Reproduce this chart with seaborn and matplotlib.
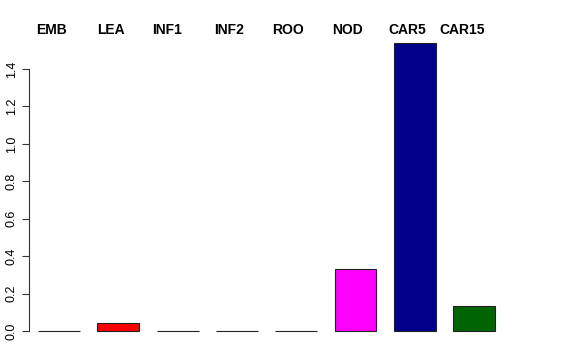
import matplotlib
matplotlib.use("Agg")
import matplotlib.pyplot as plt
import matplotlib.transforms as mtransforms
import seaborn as sns
import pandas as pd

categories = ["EMB", "LEA", "INF1", "INF2", "ROO", "NOD", "CAR5", "CAR15"]
values = [0.0, 0.043, 0.0, 0.0, 0.0, 0.331, 1.539, 0.134]
colors = ["white", "#FF0000", "white", "white", "white", "#FF00FF", "#00008B", "#006400"]
label_offsets = [-0.12, -0.13, -0.17, -0.13, -0.13, -0.13, -0.12, -0.2]
yticks = [0.0, 0.2, 0.4, 0.6, 0.8, 1.0, 1.2, 1.4]

sns.set_style("white")
plt.rcParams["font.family"] = ["Liberation Sans", "DejaVu Sans"]
plt.rcParams["text.color"] = "black"
plt.rcParams["ytick.color"] = "black"

W, H = 576, 360
fig = plt.figure(figsize=(W / 100, H / 100), dpi=100)
left_px, right_px, top_px, bottom_px = 29, 560, 35, 340
ax = fig.add_axes([left_px / W, (H - bottom_px) / H,
                   (right_px - left_px) / W, (bottom_px - top_px) / H])

df = pd.DataFrame({"cat": categories, "val": values})
sns.barplot(data=df, x="cat", y="val", hue="cat", palette=colors, order=categories,
            hue_order=categories, width=0.708, edgecolor="#222222", linewidth=0.8,
            legend=False, ax=ax, saturation=1)

xscale = 59.3
ypx = 187.14
xmin = -(59 - left_px) / xscale
ax.set_xlim(xmin, xmin + (right_px - left_px) / xscale)
ax.set_ylim(-(bottom_px - 331) / ypx, (331 - top_px) / ypx)

for sp in ["top", "right", "bottom"]:
    ax.spines[sp].set_visible(False)
ax.spines["left"].set_bounds(0, 1.4)
ax.spines["left"].set_color("#333333")
ax.spines["left"].set_linewidth(0.8)

ax.set_xticks([])
ax.set_yticks(yticks)
ax.set_yticklabels([f"{t:.1f}" for t in yticks], rotation=90, va="center", fontsize=9,
                   color="black")
ax.tick_params(axis="y", left=True, length=5, width=0.8, color="#333333", pad=3)
ax.set_xlabel("")
ax.set_ylabel("")

trans = mtransforms.blended_transform_factory(ax.transData, fig.transFigure)
for i, (c, off) in enumerate(zip(categories, label_offsets)):
    ax.text(i + off, (H - 30) / H, c, transform=trans, ha="center",
            va="center", fontsize=10, fontweight="bold", color="black", clip_on=False)

fig.savefig("out.png", dpi=100, facecolor="white")
